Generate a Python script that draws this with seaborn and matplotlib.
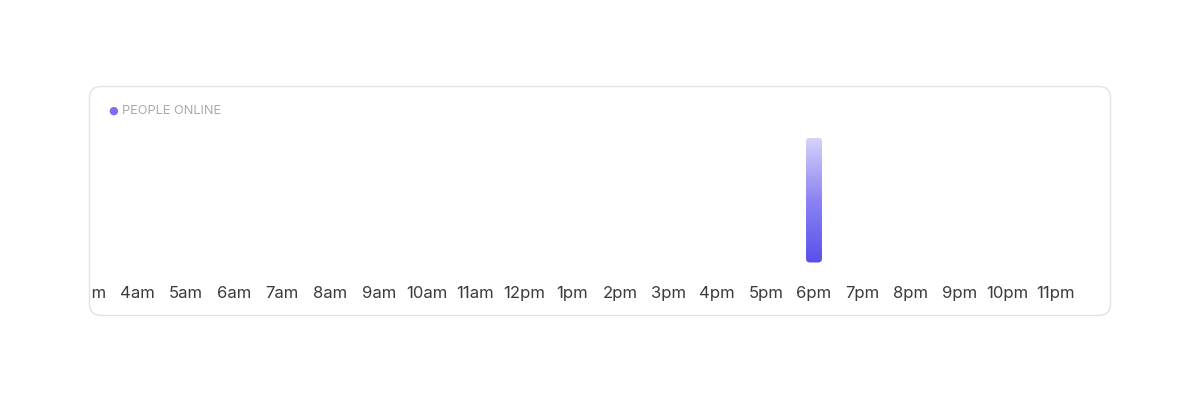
import numpy as np
import matplotlib
matplotlib.use("Agg")
import matplotlib.pyplot as plt
import seaborn as sns
from matplotlib.patches import FancyBboxPatch, Rectangle
from matplotlib.colors import LinearSegmentedColormap
from matplotlib.transforms import IdentityTransform

# data: people online per hour of the day
hours = ["12am", "1am", "2am", "3am", "4am", "5am", "6am", "7am", "8am", "9am", "10am", "11am",
         "12pm", "1pm", "2pm", "3pm", "4pm", "5pm", "6pm", "7pm", "8pm", "9pm", "10pm", "11pm"]
people = [0, 0, 0, 0, 0, 0, 0, 0, 0, 0, 0, 0,
          0, 0, 0, 0, 0, 0, 1, 0, 0, 0, 0, 0]
series_name = "PEOPLE ONLINE"

sns.set_style("white")
plt.rcParams["font.family"] = ["Inter", "DejaVu Sans"]

W, H = 1200, 406
fig = plt.figure(figsize=(W / 100, H / 100), dpi=100)
fig.patch.set_facecolor("white")

# card background (pixel coords, y flipped)
card = FancyBboxPatch((89.5, H - 316.5), 1021, 229,
                      boxstyle="round,pad=0,rounding_size=12",
                      transform=IdentityTransform(), facecolor="white",
                      edgecolor="#e2e2e6", linewidth=1.0, zorder=-1)
fig.patches.append(card)

ax_left, ax_w = 86, 1024
ax = fig.add_axes([ax_left / W, (H - 263.5) / H, ax_w / W, 125 / H])
ax.set_facecolor("none")
ax.set_zorder(1)

sns.barplot(x=hours, y=people, order=hours, width=0.33, color="#6b60ee", ax=ax)

px_per_hour = 48.36
x_left = 3 + (ax_left - 88.6) / px_per_hour
x_right = x_left + ax_w / px_per_hour
ax.set_xlim(x_left, x_right)
ax.set_ylim(0, max(people))
sns.despine(ax=ax, left=True, bottom=True)
ax.set_yticks([])
ax.set_xlabel("")
ax.tick_params(axis="x", length=0, pad=16.5, labelsize=12, labelcolor="#3a3a3f")

# gradient fill with rounded ends
cmap = LinearSegmentedColormap.from_list("bar", ["#5a4feb", "#8c84f2", "#d6d3fa"])
grad = np.linspace(0, 1, 256).reshape(-1, 1)
fig.canvas.draw()
sx = ax.transData.transform((1, 0))[0] - ax.transData.transform((0, 0))[0]
sy = ax.transData.transform((0, 1))[1] - ax.transData.transform((0, 0))[1]
for bar in list(ax.patches):
    h = bar.get_height()
    if h <= 0:
        continue
    x0, w = bar.get_x(), bar.get_width()
    bar.set_visible(False)
    r = 4 / sx
    shape = FancyBboxPatch((x0, 0), w, h,
                           boxstyle=f"round,pad=0,rounding_size={r}",
                           mutation_aspect=sx / sy, facecolor="none",
                           edgecolor="none", transform=ax.transData)
    ax.add_patch(shape)
    im = ax.imshow(grad, extent=[x0, x0 + w, 0, h], origin="lower",
                   aspect="auto", cmap=cmap, zorder=2)
    im.set_clip_path(shape)
ax.set_xlim(x_left, x_right)
ax.set_ylim(0, max(people))

# tick labels hidden outside the card
clip = Rectangle((92, 0), 1016, H, transform=IdentityTransform(),
                 facecolor="none", edgecolor="none")
for tick in ax.xaxis.get_major_ticks():
    tick.label1.set_clip_on(True)
    tick.label1.set_clip_path(clip)

# legend
fig.text(113.5 / W, (H - 111) / H, "●", color="#7b70f1", fontsize=8,
         ha="center", va="center", family="DejaVu Sans")
fig.text(122 / W, (H - 111) / H, series_name, color="#a9a9b2", fontsize=9.2,
         ha="left", va="center")

fig.savefig("out.png", dpi=100, facecolor="white")
